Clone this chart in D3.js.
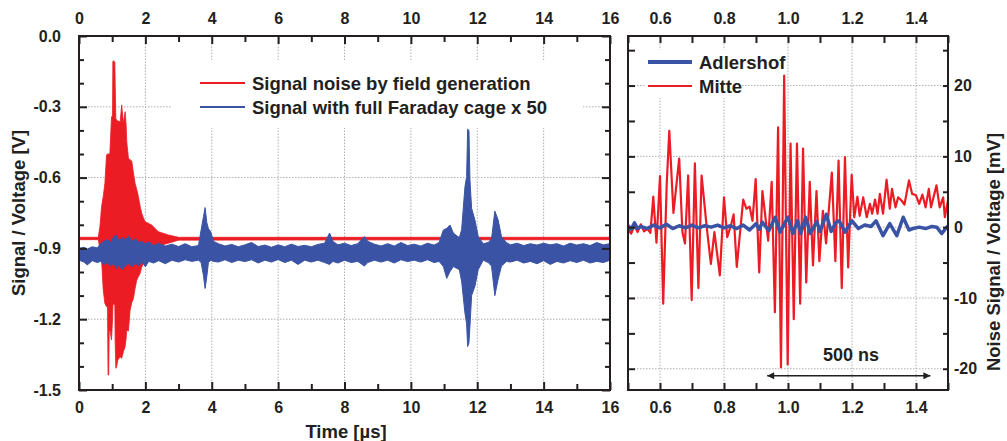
<!DOCTYPE html>
<html>
<head>
<meta charset="utf-8">
<script src="https://cdn.jsdelivr.net/npm/d3@7"></script>
<style>
  body { margin: 0; background: #fff; }
  svg { display: block; }
</style>
</head>
<body>
<div id="chart"></div>
<script>
// ---- left panel: envelopes of the dense traces ----
const redT  = [0, 0.58, 0.63, 0.68, 0.73, 0.78, 0.83, 0.86, 0.875, 0.895, 0.91, 0.93, 0.98, 1.01, 1.02, 1.03, 1.08, 1.09, 1.11, 1.135, 1.17, 1.24, 1.285, 1.34, 1.39, 1.42, 1.44, 1.49, 1.54, 1.59, 1.64, 1.69, 1.74, 1.79, 1.84, 1.89, 1.94, 1.99, 2.04, 2.19, 2.39, 2.69, 3.0, 16];
const redHi = [-0.853, -0.853, -0.808, -0.723, -0.68, -0.624, -0.504, -0.50, -0.50, -0.50, -0.50, -0.497, -0.342, -0.34, -0.11, -0.105, -0.11, -0.20, -0.35, -0.356, -0.36, -0.364, -0.292, -0.37, -0.321, -0.378, -0.45, -0.518, -0.525, -0.53, -0.58, -0.624, -0.65, -0.68, -0.72, -0.751, -0.77, -0.787, -0.79, -0.801, -0.829, -0.843, -0.853, -0.853];
const redLo = [-0.863, -0.863, -0.90, -0.95, -1.076, -1.133, -1.147, -1.15, -1.436, -1.436, -1.25, -1.246, -1.288, -1.20, -1.15, -1.133, -1.14, -1.30, -1.408, -1.40, -1.373, -1.359, -1.366, -1.337, -1.316, -1.28, -1.246, -1.25, -1.161, -1.13, -1.112, -1.07, -1.034, -1.02, -1.006, -0.98, -0.963, -0.945, -0.928, -0.907, -0.890, -0.878, -0.865, -0.863];

const blueT  = [0, 0.15, 0.25, 0.4, 0.55, 0.65, 0.75, 0.85, 0.95, 1.05, 1.12, 1.2, 1.3, 1.4, 1.5, 1.6, 1.7, 1.8, 1.9, 2.0, 2.1, 2.25, 2.4, 2.6, 2.8, 3.0, 3.2, 3.4, 3.6,
                3.68, 3.75, 3.8, 3.85, 3.9, 3.97, 4.05,
                4.2, 4.4, 4.6, 4.8, 5.0, 5.2, 5.4, 5.6, 5.8, 6.0, 6.2, 6.4, 6.6, 6.8, 7.0, 7.2, 7.4, 7.55, 7.65, 7.8, 8.0, 8.2, 8.4, 8.6, 8.7, 8.9, 9.1, 9.3, 9.5, 9.7, 9.9, 10.1, 10.3, 10.5, 10.7, 10.85,
                10.98, 11.08, 11.18, 11.28, 11.46, 11.53, 11.63, 11.68, 11.71, 11.75, 11.78, 11.83, 11.93, 12.03, 12.18, 12.33, 12.43, 12.53, 12.63, 12.73, 12.88,
                13.0, 13.2, 13.4, 13.6, 13.8, 14.0, 14.2, 14.4, 14.6, 14.8, 15.0, 15.2, 15.4, 15.6, 15.8, 16.0];
const blueHi = [-0.900, -0.895, -0.903, -0.893, -0.898, -0.880, -0.870, -0.862, -0.875, -0.850, -0.843, -0.868, -0.855, -0.862, -0.848, -0.870, -0.858, -0.875, -0.870, -0.880, -0.872, -0.888, -0.878, -0.890, -0.882, -0.892, -0.880, -0.893, -0.888,
                -0.822, -0.766, -0.727, -0.790, -0.816, -0.830, -0.870,
                -0.880, -0.890, -0.883, -0.893, -0.885, -0.875, -0.892, -0.886, -0.895, -0.885, -0.893, -0.882, -0.892, -0.887, -0.893, -0.883, -0.878, -0.835, -0.870, -0.885, -0.878, -0.888, -0.880, -0.850, -0.870, -0.882, -0.890, -0.880, -0.890, -0.875, -0.888, -0.882, -0.890, -0.878, -0.886, -0.875,
                -0.822, -0.815, -0.801, -0.835, -0.855, -0.820, -0.638, -0.596, -0.395, -0.400, -0.610, -0.730, -0.780, -0.850, -0.880, -0.875, -0.860, -0.742, -0.780, -0.850, -0.875,
                -0.885, -0.878, -0.888, -0.880, -0.886, -0.878, -0.885, -0.880, -0.890, -0.878, -0.886, -0.880, -0.888, -0.875, -0.885, -0.880];
const blueLo = [-0.950, -0.958, -0.970, -0.952, -0.960, -0.955, -0.968, -0.960, -0.975, -0.962, -0.985, -0.970, -0.990, -0.972, -0.965, -0.978, -0.962, -0.975, -0.958, -0.978, -0.955, -0.962, -0.952, -0.965, -0.950, -0.958, -0.948, -0.955, -0.950,
                -0.960, -1.015, -1.070, -1.020, -0.960, -0.950, -0.955,
                -0.958, -0.948, -0.960, -0.950, -0.956, -0.948, -0.962, -0.950, -0.958, -0.947, -0.960, -0.950, -0.968, -0.950, -0.958, -0.950, -0.960, -0.968, -0.955, -0.962, -0.950, -0.960, -0.955, -0.975, -0.960, -0.950, -0.958, -0.950, -0.962, -0.948, -0.956, -0.950, -0.958, -0.948, -0.960, -0.955,
                -0.977, -1.027, -0.998, -0.977, -0.990, -1.040, -1.175, -1.220, -1.316, -1.300, -1.230, -1.100, -1.060, -0.990, -0.950, -0.960, -0.975, -1.100, -1.030, -0.975, -0.955,
                -0.958, -0.950, -0.962, -0.955, -0.965, -0.952, -0.968, -0.955, -0.962, -0.952, -0.960, -0.950, -0.962, -0.955, -0.960, -0.950];

// ---- right panel: zoomed traces [mV] ----
const mitteT = [0.500, 0.510, 0.520, 0.530, 0.540, 0.550, 0.560, 0.570, 0.579, 0.589, 0.600, 0.610, 0.621, 0.629, 0.642, 0.660, 0.670, 0.678, 0.688, 0.699, 0.709, 0.720, 0.730, 0.746, 0.759, 0.770, 0.787, 0.800, 0.810, 0.822, 0.830, 0.840, 0.860, 0.870, 0.880, 0.889, 0.899, 0.910, 0.920, 0.938, 0.949, 0.959, 0.969, 0.978, 0.988, 0.999, 1.008, 1.018, 1.028, 1.038, 1.047, 1.057, 1.068, 1.078, 1.089, 1.098, 1.109, 1.119, 1.137, 1.148, 1.158, 1.168, 1.178, 1.188, 1.199, 1.207, 1.217, 1.224, 1.235, 1.246, 1.256, 1.263, 1.272, 1.280, 1.287, 1.297, 1.308, 1.318, 1.325, 1.336, 1.344, 1.354, 1.364, 1.378, 1.388, 1.400, 1.410, 1.420, 1.430, 1.440, 1.447, 1.464, 1.474, 1.485, 1.490, 1.500];
const mitteV = [-0.3, -0.9, 0.2, -0.7, 0.4, -0.6, -0.2, -0.8, 4.3, -2.2, 7.2, -10.8, 6.1, 13.6, 2.0, 9.7, -0.7, -2.3, 7.3, -10.3, 9.0, -8.6, 7.3, 0.0, -5.2, -0.7, -6.8, 4.2, -1.4, 0.3, 1.8, -5.6, 3.9, 2.6, 2.9, 0.9, 6.8, -6.4, 5.1, -1.9, 6.4, -12.0, 14.1, -19.8, 21.4, -19.4, 11.8, -13.0, 11.8, -10.8, 11.1, -7.8, 6.4, -5.4, 5.1, -4.8, 2.3, -2.3, 7.7, -4.8, 9.4, -8.6, 9.9, -5.7, 7.4, 1.4, 4.3, 1.6, 4.2, 1.4, 3.3, 1.9, 3.9, 1.9, 4.7, 1.9, 6.7, 2.6, 5.4, 2.8, 4.2, 3.8, 3.2, 6.6, 4.7, 4.5, 3.3, 4.6, 2.8, 5.4, 2.8, 5.9, 2.8, 4.2, 1.4, 3.8];

const adlerT = [0.50, 0.51, 0.52, 0.53, 0.54, 0.56, 0.58, 0.60, 0.62, 0.64, 0.66, 0.68, 0.70, 0.72, 0.74, 0.76, 0.78, 0.80, 0.82, 0.84, 0.86, 0.88, 0.90, 0.91, 0.92, 0.94, 0.96, 0.975, 0.99, 1.00, 1.015, 1.03, 1.04, 1.055, 1.07, 1.09, 1.10, 1.12, 1.135, 1.15, 1.16, 1.178, 1.20, 1.22, 1.24, 1.26, 1.275, 1.297, 1.318, 1.34, 1.36, 1.378, 1.39, 1.41, 1.43, 1.45, 1.465, 1.48, 1.50];
const adlerV = [0.2, -0.3, 0.6, -0.2, 0.1, -0.2, 0.3, -0.1, 0.4, -0.2, 0.2, -0.1, 0.3, -0.1, 0.2, 0.0, 0.3, -0.1, 0.2, -0.2, 0.3, -0.4, 0.5, -0.3, 0.7, -0.5, 1.4, -0.7, 0.6, 1.4, -0.9, 0.9, -0.9, 1.4, -0.9, 0.8, -0.6, 1.8, -0.6, 0.7, 0.9, -0.7, 0.9, -0.2, 0.3, 0.1, 0.9, -1.2, 0.5, -1.2, 1.4, -0.4, -0.2, 0.0, -0.2, 0.1, 0.0, -0.9, 0.2];

// ---- ticks ----
const leftYTicks = [0, -0.3, -0.6, -0.9, -1.2, -1.5];
const leftYMinor = [-0.1, -0.2, -0.4, -0.5, -0.7, -0.8, -1.0, -1.1, -1.3, -1.4];
const leftXTicks = [0, 2, 4, 6, 8, 10, 12, 14, 16];
const leftXMinor = [1, 3, 5, 7, 9, 11, 13, 15];
const rightXTicks = [0.6, 0.8, 1.0, 1.2, 1.4];
const rightXMinor = [0.5, 0.7, 0.9, 1.1, 1.3, 1.5];
const rightYTicks = [20, 10, 0, -10, -20];
const rightYMinor = [25, 15, 5, -5, -15];

const RED = '#ec1c24', BLUE = '#3a53a4', INK = '#231f20';
const FONT = '"Liberation Sans", Arial, sans-serif';

const svg = d3.select('#chart').append('svg').attr('width', 1007).attr('height', 441)
    .style('font-family', FONT);

const xL = d3.scaleLinear().domain([0, 16]).range([79, 610]);
const yL = d3.scaleLinear().domain([-1.5, 0]).range([390, 36]);
const xR = d3.scaleLinear().domain([0.5, 1.5]).range([628, 948]);
const yR = d3.scaleLinear().domain([-23, 27]).range([390, 36]);

function grid(xs, ys, xVals, yVals) {
    const g = svg.append('g').attr('stroke', '#b0b0b0').attr('stroke-dasharray', '1.5,1.5').attr('stroke-width', 1);
    xVals.forEach((v) => g.append('line').attr('x1', xs(v)).attr('x2', xs(v)).attr('y1', ys.range()[0]).attr('y2', ys.range()[1]));
    yVals.forEach((v) => g.append('line').attr('y1', ys(v)).attr('y2', ys(v)).attr('x1', xs.range()[0]).attr('x2', xs.range()[1]));
}
grid(xL, yL, [2, 4, 6, 8, 10, 12, 14], [-0.3, -0.6, -0.9, -1.2]);
grid(xR, yR, rightXTicks, [20, 10, 0, -10, -20]);

// legend backgrounds hide the grid
svg.append('rect').attr('x', 172).attr('y', 60).attr('width', 411).attr('height', 68).attr('fill', '#fff');
svg.append('rect').attr('x', 645).attr('y', 50).attr('width', 96).attr('height', 48).attr('fill', '#fff');

// ---- left panel traces ----
const band = (xs, ys, t, hi, lo) => d3.area()
    .x((d, i) => xs(t[i]))
    .y0((d, i) => ys(lo[i]))
    .y1((d, i) => ys(hi[i]))(t);

svg.append('path').attr('d', band(xL, yL, redT, redHi, redLo))
    .attr('fill', RED).attr('stroke', RED).attr('stroke-width', 0.8);
svg.append('path').attr('d', band(xL, yL, blueT, blueHi, blueLo))
    .attr('fill', BLUE).attr('stroke', BLUE).attr('stroke-width', 1);

// ---- right panel traces ----
const lineR = (t, v) => d3.line().x((d, i) => xR(t[i])).y((d, i) => yR(v[i]))(t);
svg.append('path').attr('d', lineR(mitteT, mitteV)).attr('fill', 'none')
    .attr('stroke', RED).attr('stroke-width', 2.2).attr('stroke-linejoin', 'round');
svg.append('path').attr('d', lineR(adlerT, adlerV)).attr('fill', 'none')
    .attr('stroke', BLUE).attr('stroke-width', 3.5).attr('stroke-linejoin', 'round');

// ---- axes ----
function axis(gen, scale, ticks, size, fmt, pad, tr) {
    const a = gen(scale).tickValues(ticks).tickSize(-size).tickPadding(pad).tickFormat(fmt || (() => ''));
    const g = svg.append('g').attr('transform', tr).call(a);
    g.select('.domain').remove();
    g.selectAll('line').attr('stroke', INK).attr('stroke-width', 2);
    g.selectAll('text').attr('fill', INK).style('font-size', '16px').style('font-weight', 'bold').style('font-family', FONT);
    return g;
}
const f1 = (d) => d.toFixed(1);
const f0 = (d) => String(d);

// left panel
axis(d3.axisLeft, yL, leftYTicks, 8, f1, 18, 'translate(79,0)');
axis(d3.axisLeft, yL, leftYMinor, 5, null, 0, 'translate(79,0)');
axis(d3.axisRight, yL, leftYTicks, 8, null, 0, 'translate(610,0)');
axis(d3.axisRight, yL, leftYMinor, 5, null, 0, 'translate(610,0)');
axis(d3.axisBottom, xL, leftXTicks, 8, f0, 12, 'translate(0,390)');
axis(d3.axisBottom, xL, leftXMinor, 6, null, 0, 'translate(0,390)');
axis(d3.axisTop, xL, leftXTicks, 8, f0, 12, 'translate(0,36)');
axis(d3.axisTop, xL, leftXMinor, 6, null, 0, 'translate(0,36)');

// right panel
axis(d3.axisLeft, yR, rightYTicks, 7, null, 0, 'translate(628,0)');
axis(d3.axisLeft, yR, rightYMinor, 7, null, 0, 'translate(628,0)');
axis(d3.axisRight, yR, rightYTicks, 5, f0, 6, 'translate(948,0)');
axis(d3.axisRight, yR, rightYMinor, 5, null, 0, 'translate(948,0)');
axis(d3.axisBottom, xR, rightXTicks, 7, f1, 12, 'translate(0,390)');
axis(d3.axisBottom, xR, rightXMinor, 7, null, 0, 'translate(0,390)');
axis(d3.axisTop, xR, rightXTicks, 7, f1, 12, 'translate(0,36)');
axis(d3.axisTop, xR, rightXMinor, 7, null, 0, 'translate(0,36)');

// frames
[[xL, yL], [xR, yR]].forEach(([xs, ys]) => {
    svg.append('rect').attr('x', xs.range()[0]).attr('y', ys.range()[1])
        .attr('width', xs.range()[1] - xs.range()[0]).attr('height', ys.range()[0] - ys.range()[1])
        .attr('fill', 'none').attr('stroke', INK).attr('stroke-width', 2);
});

// ---- titles ----
const title = (x, y, txt, rot) => svg.append('text')
    .attr('transform', `translate(${x},${y})` + (rot ? ' rotate(-90)' : ''))
    .attr('text-anchor', 'middle').attr('dominant-baseline', 'central')
    .attr('fill', INK).style('font-size', '18.5px').style('font-weight', 'bold').text(txt);
title(18, 213, 'Signal / Voltage [V]', true);
title(993, 252, 'Noise Signal / Voltage [mV]', true);
title(346, 431, 'Time [\u00b5s]', false);

// ---- legends ----
function legendItem(x1, x2, y, color, w, label) {
    svg.append('line').attr('x1', x1).attr('x2', x2).attr('y1', y).attr('y2', y)
        .attr('stroke', color).attr('stroke-width', w);
    svg.append('text').attr('x', x2 + 7).attr('y', y).attr('dominant-baseline', 'central')
        .attr('fill', INK).style('font-size', '18.5px').style('font-weight', 'bold').text(label);
}
legendItem(200, 245, 83, RED, 2, 'Signal noise by field generation');
legendItem(200, 245, 107, BLUE, 2, 'Signal with full Faraday cage x 50');
legendItem(648, 692, 62, BLUE, 4, 'Adlershof');
legendItem(648, 692, 86, RED, 2, 'Mitte');

// ---- 500 ns marker ----
const defs = svg.append('defs');
['start', 'end'].forEach((k) => {
    defs.append('marker').attr('id', 'ah-' + k).attr('viewBox', '0 0 10 10')
        .attr('refX', k === 'end' ? 10 : 0).attr('refY', 5)
        .attr('markerWidth', 10).attr('markerHeight', 7).attr('markerUnits', 'userSpaceOnUse')
        .attr('orient', 'auto')
        .append('path').attr('d', k === 'end' ? 'M0,0 L10,5 L0,10 Z' : 'M10,0 L0,5 L10,10 Z').attr('fill', INK);
});
svg.append('line').attr('x1', xR(0.935)).attr('x2', xR(1.445)).attr('y1', yR(-21)).attr('y2', yR(-21))
    .attr('stroke', INK).attr('stroke-width', 1.5)
    .attr('marker-start', 'url(#ah-start)').attr('marker-end', 'url(#ah-end)');
svg.append('text').attr('x', xR(1.197)).attr('y', yR(-18)).attr('text-anchor', 'middle')
    .attr('dominant-baseline', 'central').attr('fill', INK)
    .style('font-size', '18px').style('font-weight', 'bold').text('500 ns');
</script>
</body>
</html>
